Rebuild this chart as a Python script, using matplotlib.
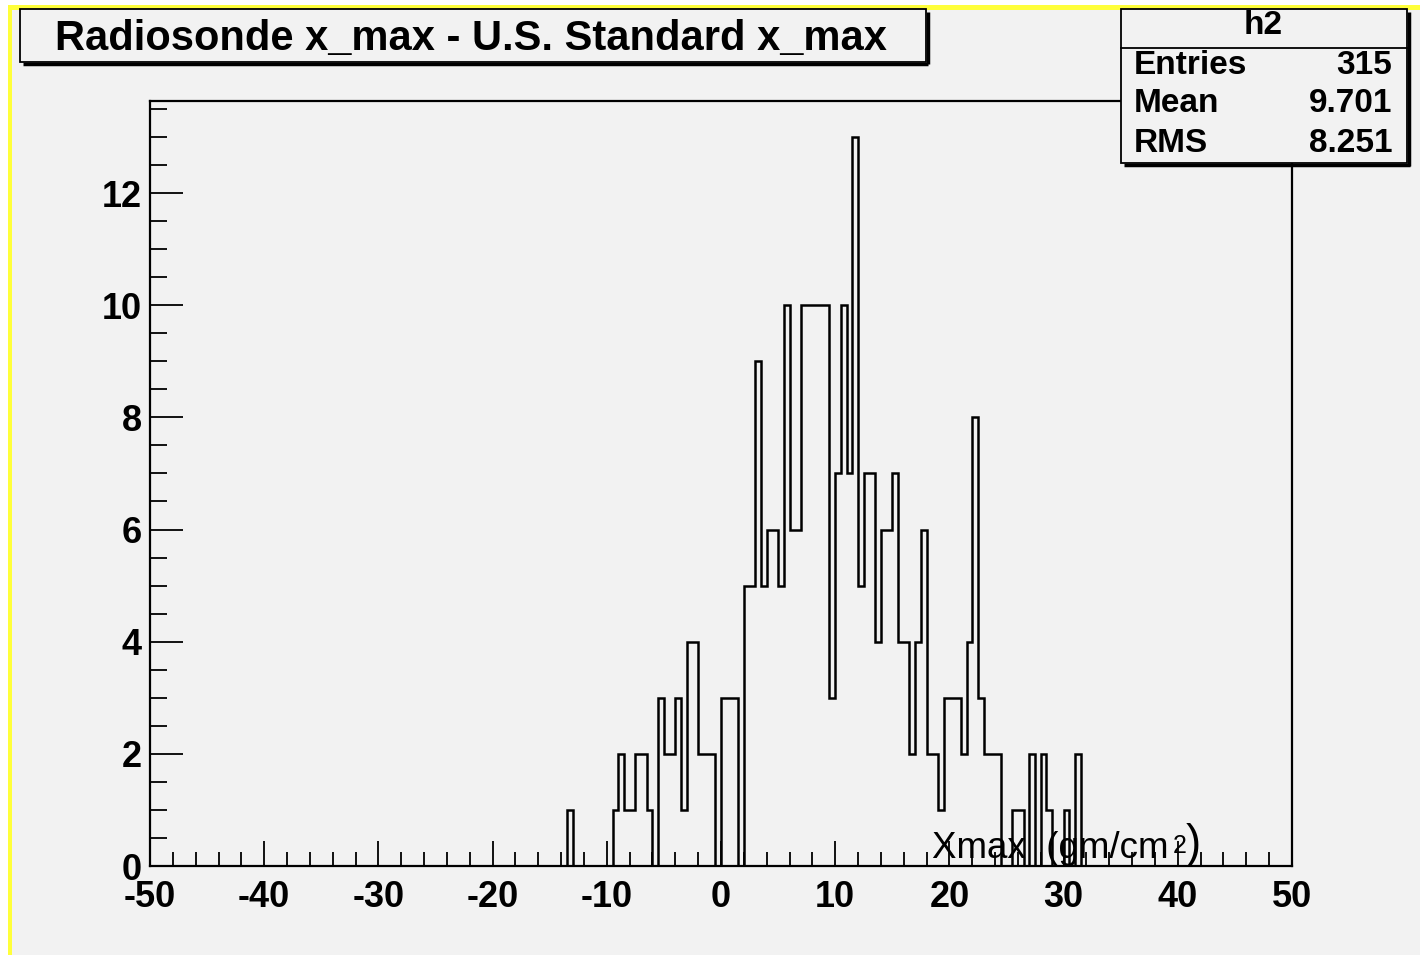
import numpy as np
import matplotlib
matplotlib.use("Agg")
import matplotlib.pyplot as plt
from matplotlib.patches import Rectangle

# ---------------- data ----------------
x_range = (-50.0, 50.0)
n_bins = 200                     # bin width 0.5
first_filled_edge = -13.5        # lower edge of the first listed bin
counts = [1, 0, 0, 0, 0, 0, 0, 0, 1, 2,
          1, 1, 2, 2, 1, 0, 3, 2, 2, 3,
          1, 4, 4, 2, 2, 2, 0, 3, 3, 3,
          0, 5, 5, 9, 5, 6, 6, 5, 10, 6,
          6, 10, 10, 10, 10, 10, 3, 7, 10, 7,
          13, 5, 7, 7, 4, 6, 6, 7, 4, 4,
          2, 4, 6, 2, 2, 1, 3, 3, 3, 2,
          4, 8, 3, 2, 2, 2, 0, 0, 1, 1,
          0, 2, 0, 2, 1, 0, 0, 1, 0, 2]
x_ticks = [-50, -40, -30, -20, -10, 0, 10, 20, 30, 40, 50]
y_ticks = [0, 2, 4, 6, 8, 10, 12]
title = "Radiosonde x_max - U.S. Standard x_max"
stats_name = "h2"
stats_labels = ["Entries", "Mean", "RMS"]
stats_values = ["315", "9.701", "8.251"]

# ---------------- build full histogram ----------------
edges = np.linspace(x_range[0], x_range[1], n_bins + 1)
values = np.zeros(n_bins)
i0 = int(round((first_filled_edge - x_range[0]) / 0.5))
values[i0:i0 + len(counts)] = counts

W, H = 1420, 957
fig = plt.figure(figsize=(W / 100, H / 100), dpi=100, facecolor="white")

BG = "#f2f2f2"
FONT = "Liberation Sans"

# background layer
bg = fig.add_axes([0, 0, 1, 1], zorder=0)
bg.set_xlim(0, W); bg.set_ylim(H, 0); bg.axis("off")
bg.add_patch(Rectangle((10, 7), W - 10, H - 9, facecolor=BG, edgecolor="none"))
bg.add_patch(Rectangle((8, 5), W - 8, 4.5, facecolor="#ffff3a", edgecolor="none"))
bg.add_patch(Rectangle((8, 5), 4, H - 7, facecolor="#ffff3a", edgecolor="none"))

# main axes
L, R, T, B = 150, 1292, 101, 866
ax = fig.add_axes([L / W, (H - B) / H, (R - L) / W, (B - T) / H], zorder=1)
ax.set_facecolor("none")
ax.stairs(values, edges, baseline=0, fill=False, color="black", linewidth=1.8)
ax.set_xlim(*x_range)
ax.set_ylim(0, (B - T) / 56.08)
for s in ax.spines.values():
    s.set_linewidth(1.6)
    s.set_color("black")
ax.set_xticks(x_ticks)
ax.set_xticks(np.arange(-50, 51, 2), minor=True)
ax.set_yticks(y_ticks)
ax.set_yticks(np.arange(0, 13.6, 0.5), minor=True)
ax.tick_params(axis="x", which="major", direction="in", length=18, width=1.3,
               pad=10, top=False)
ax.tick_params(axis="x", which="minor", direction="in", length=10, width=1.3, top=False)
ax.tick_params(axis="y", which="major", direction="in", length=24, width=1.3,
               pad=6, right=False)
ax.tick_params(axis="y", which="minor", direction="in", length=12, width=1.3, right=False)
ax.set_xticklabels([str(v) for v in x_ticks], fontfamily=FONT, fontweight="bold", fontsize=26)
ax.set_yticklabels([str(v) for v in y_ticks], fontfamily=FONT, fontweight="bold", fontsize=26)

# foreground overlay (boxes, texts)
ov = fig.add_axes([0, 0, 1, 1], zorder=2)
ov.set_xlim(0, W); ov.set_ylim(H, 0); ov.axis("off")
ov.patch.set_alpha(0)

# title box
ov.add_patch(Rectangle((20, 9), 906, 53, facecolor=BG, edgecolor="black", linewidth=1.3))
ov.plot([23, 928], [63.5, 63.5], color="black", linewidth=2.5, solid_capstyle="butt")
ov.plot([927.5, 927.5], [12, 64], color="black", linewidth=2.5, solid_capstyle="butt")
ov.text(471, 39, title, fontfamily=FONT, fontweight="bold", fontsize=30,
        ha="center", va="center")

# stats box
ov.add_patch(Rectangle((1121, 9), 286, 154, facecolor=BG, edgecolor="black", linewidth=1.3))
ov.plot([1124, 1409.5], [164.5, 164.5], color="black", linewidth=2.5, solid_capstyle="butt")
ov.plot([1408.5, 1408.5], [12, 165.5], color="black", linewidth=2.5, solid_capstyle="butt")
ov.plot([1121, 1407], [47.5, 47.5], color="black", linewidth=1.3)
ov.text(1263, 26, stats_name, fontfamily=FONT, fontweight="bold", fontsize=24,
        ha="center", va="center")
for k, (lab, val) in enumerate(zip(stats_labels, stats_values)):
    yy = 65 + 39 * k
    ov.text(1134, yy, lab, fontfamily=FONT, fontweight="bold", fontsize=24,
            ha="left", va="center")
    ov.text(1392, yy, val, fontfamily=FONT, fontweight="bold", fontsize=24,
            ha="right", va="center")

# x-axis title
ov.text(932, 858, "Xmax  (gm/cm", fontfamily=FONT, fontsize=26.5,
        ha="left", va="baseline")
ov.text(1173, 853, "2", fontfamily=FONT, fontsize=18, ha="left", va="baseline")
ov.text(1186, 857, ")", fontfamily=FONT, fontsize=33, ha="left", va="baseline")

fig.savefig("out.png", dpi=100, facecolor="white")
